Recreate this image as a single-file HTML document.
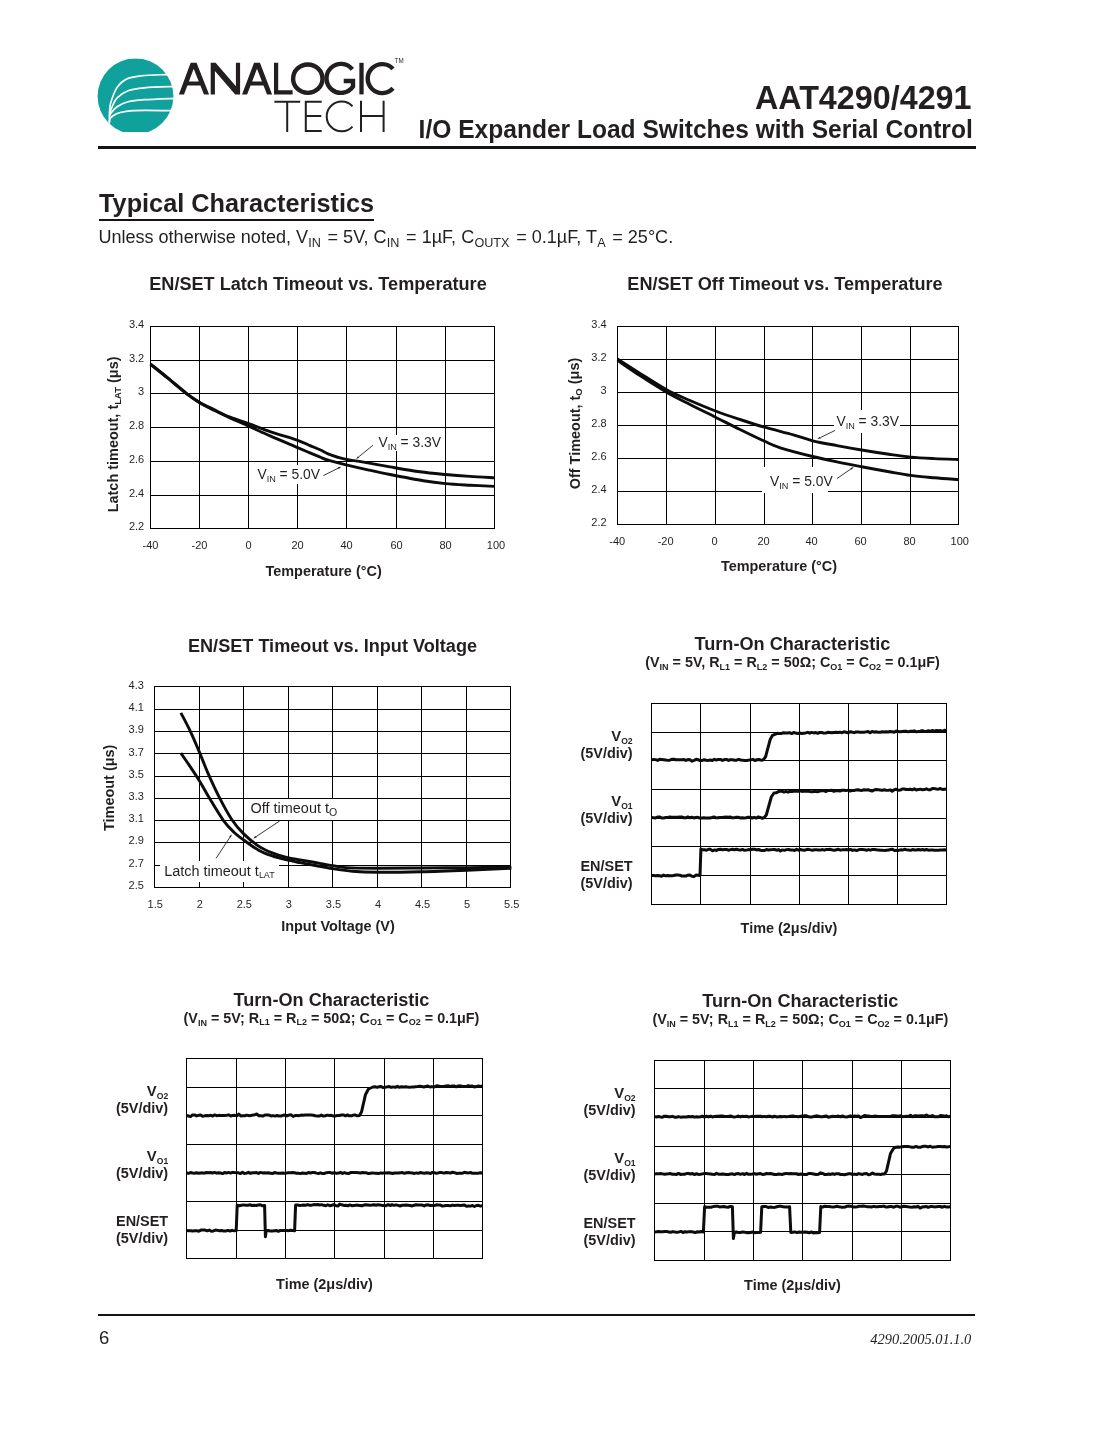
<!DOCTYPE html>
<html><head><meta charset="utf-8"><title>AAT4290/4291</title>
<style>
html,body{margin:0;padding:0;background:#fff;}
body{width:1105px;height:1430px;position:relative;overflow:hidden;font-family:"Liberation Sans",sans-serif;color:#231f20;}
.t{position:absolute;white-space:nowrap;line-height:1;}
.b{font-weight:bold;}
sub{font-size:70%;vertical-align:baseline;position:relative;top:0.31em;line-height:0;margin:0 1.7px 0 0.2px;}
svg{position:absolute;left:0;top:0;}
svg text{font-family:"Liberation Sans",sans-serif;fill:#231f20;}
.rule{position:absolute;background:#161314;}
#page{position:absolute;left:0;top:0;width:1105px;height:1430px;will-change:transform;background:#fff;}
</style></head><body><div id="page">
<div class="t b" id="h1" style="left:754.9px;top:81.56px;font-size:32.3px;transform:scaleY(1.03);transform-origin:0 0.8465em;">AAT4290/4291</div>
<div class="t b" id="h2" style="left:418.6px;top:117.6px;font-size:24.57px;transform:scaleY(1.02);transform-origin:0 0.8465em;">I/O Expander Load Switches with Serial Control</div>
<div class="rule" style="left:98px;top:146.25px;width:878px;height:2.4px;"></div>
<div class="t b" id="h3" style="left:99px;top:191.18px;font-size:25.3px;transform:scaleY(1.02);transform-origin:0 0.8465em;">Typical Characteristics</div>
<div class="rule" style="left:99.2px;top:219.1px;width:274.6px;height:1.7px;"></div>
<div class="t" id="note" style="left:98.4px;top:227.61px;font-size:18.06px;transform:scaleY(1.02);transform-origin:0 0.8465em;">Unless otherwise noted, V<sub>IN</sub> = 5V, C<sub>IN</sub> = 1&micro;F, C<sub>OUTX</sub> = 0.1&micro;F, T<sub>A</sub> = 25&deg;C.</div>
<div class="rule" style="left:98px;top:1313.7px;width:877px;height:2.2px;"></div>
<div class="t" id="pg" style="left:98.9px;top:1329.04px;font-size:18.5px;transform:scaleY(1.03);transform-origin:0 0.8465em;">6</div>
<div class="t" id="rev" style="right:133.7px;top:1331.77px;font-size:14.45px;font-family:'Liberation Serif',serif;font-style:italic;">4290.2005.01.1.0</div>
<svg width="1105" height="1430" viewBox="0 0 1105 1430">
<g id="logo"><clipPath id="lc"><rect x="90" y="58.4" width="90" height="73.5"/></clipPath><circle cx="135.5" cy="96.2" r="37.9" fill="#10a19c" clip-path="url(#lc)"/><g clip-path="url(#lc)"><path d="M109.3 123.5C109.35 121.58 109.35 115.48 109.6 112C109.85 108.52 109.55 106.7 110.8 102.6C112.05 98.5 114.53 91.3 117.1 87.4C119.67 83.5 122.27 81.12 126.2 79.2C130.13 77.28 134.07 76.67 140.7 75.9C147.33 75.13 160.12 74.83 166 74.6C171.88 74.37 174.33 74.52 176 74.5" fill="none" stroke="#fff" stroke-width="1.7" stroke-linecap="butt"/><path d="M109.9 113C110.18 112.17 110.4 110.52 111.6 108C112.8 105.48 114.37 100.78 117.1 97.9C119.83 95.02 123.47 92.38 128 90.7C132.53 89.02 136.3 88.5 144.3 87.8C152.3 87.1 170.72 86.72 176 86.5" fill="none" stroke="#fff" stroke-width="1.7" stroke-linecap="butt"/><path d="M109.6 116C109.82 115.55 109.65 114.85 110.9 113.3C112.15 111.75 114.25 108.62 117.1 106.7C119.95 104.78 123.47 102.97 128 101.8C132.53 100.63 136.3 100.28 144.3 99.7C152.3 99.12 170.72 98.53 176 98.3" fill="none" stroke="#fff" stroke-width="1.7" stroke-linecap="butt"/><path d="M109.4 122C109.6 121.32 109.32 119.32 110.6 117.9C111.88 116.48 114.5 114.6 117.1 113.5C119.7 112.4 121.67 111.82 126.2 111.3C130.73 110.78 136 110.48 144.3 110.4C152.6 110.32 170.72 110.73 176 110.8" fill="none" stroke="#fff" stroke-width="1.7" stroke-linecap="butt"/></g><path d="M178.9 94.4L184 94.4L195.95 62.8L190.65 62.8ZM204 94.4L209.1 94.4L196.55 62.8L191.25 62.8ZM184.25 85.4L203.53 85.4L201.94 81.4L185.73 81.4Z" fill="#231f20"/><path d="M210.7 94.4V62.8H215.6L235.9 86.2V62.8H240.1V94.4H235.2L214.9 71V94.4Z" fill="#231f20"/><path d="M242 94.4L247.1 94.4L259.35 62.8L254.05 62.8ZM267 94.4L272.1 94.4L259.95 62.8L254.65 62.8ZM247.43 85.4L266.64 85.4L265.1 81.4L248.96 81.4Z" fill="#231f20"/><path d="M276.1 62.8V92.3H292.6" fill="none" stroke="#231f20" stroke-width="4.2"/><ellipse cx="307.8" cy="78.65" rx="14.7" ry="14.2" fill="none" stroke="#231f20" stroke-width="4.4"/><path d="M352.31 69.28A14.5 14.5 0 1 0 353 86.5V81H343.7" fill="none" stroke="#231f20" stroke-width="4.4" stroke-linejoin="miter"/><path d="M361.5 62.8V94.4" fill="none" stroke="#231f20" stroke-width="4.3"/><path d="M392.98 68.9A14.5 14.5 0 1 0 392.98 88.3" fill="none" stroke="#231f20" stroke-width="4.4"/><text x="394.6" y="62.8" font-size="6.4" textLength="9.0" lengthAdjust="spacingAndGlyphs">TM</text><path d="M274.4 101.7H300.2M287.2 101.7V132.1" fill="none" stroke="#231f20" stroke-width="2"/><path d="M321.7 101.7H305.8V131.1H321.7M305.8 116H321.3" fill="none" stroke="#231f20" stroke-width="2"/><path d="M352.5 106.24A14.9 14.9 0 1 0 352.5 126.56" fill="none" stroke="#231f20" stroke-width="2"/><path d="M361 100.7V132.1M383.6 100.7V132.1M361 116H383.6" fill="none" stroke="#231f20" stroke-width="2"/></g>
<g id="c1"><text x="318" y="290" font-size="18.12" text-anchor="middle" font-weight="bold" >EN/SET Latch Timeout vs. Temperature</text><path d="M150.5 326V529M199.5 326V529M248.5 326V529M297.5 326V529M346.5 326V529M396.5 326V529M445.5 326V529M494.5 326V529M150 326.5H495M150 360.5H495M150 393.5H495M150 427.5H495M150 461.5H495M150 495.5H495M150 528.5H495" fill="none" stroke="#000" stroke-width="1" shape-rendering="crispEdges"/><rect x="375" y="435" width="68" height="16" fill="#fff"/><rect x="254" y="465" width="68" height="19" fill="#fff"/><path d="M150.5 363.9C153.42 366.25 162.02 373.1 168 378C173.98 382.9 181.15 389.27 186.4 393.3C191.65 397.33 194.9 399.48 199.5 402.2C204.1 404.92 208.92 407.1 214 409.6C219.08 412.1 224.23 414.87 230 417.2C235.77 419.53 241.82 421.17 248.6 423.6C255.38 426.03 262.53 429.02 270.7 431.8C278.87 434.58 291.05 438 297.6 440.3C304.15 442.6 306.27 444.02 310 445.6C313.73 447.18 316.98 448.42 320 449.8C323.02 451.18 325.27 452.7 328.1 453.9C330.93 455.1 333.98 456.1 337 457C340.02 457.9 341.05 458.32 346.2 459.3C351.35 460.28 360.6 461.63 367.9 462.9C375.2 464.17 381.32 465.42 390 466.9C398.68 468.38 410.75 470.53 420 471.8C429.25 473.07 437.17 473.73 445.5 474.5C453.83 475.27 461.83 475.87 470 476.4C478.17 476.93 490.42 477.48 494.5 477.7" fill="none" stroke="#0d0b0c" stroke-width="2.9" stroke-linecap="butt"/><path d="M150.5 364.3C153.42 366.65 162.02 373.5 168 378.4C173.98 383.3 181.15 389.65 186.4 393.7C191.65 397.75 194.9 399.93 199.5 402.7C204.1 405.47 208.92 407.77 214 410.3C219.08 412.83 224.23 415.27 230 417.9C235.77 420.53 241.82 423.05 248.6 426.1C255.38 429.15 262.53 432.62 270.7 436.2C278.87 439.78 291.05 444.82 297.6 447.6C304.15 450.38 306.27 451.33 310 452.9C313.73 454.47 316.98 455.78 320 457C323.02 458.22 323.73 458.9 328.1 460.2C332.47 461.5 339.57 463.2 346.2 464.8C352.83 466.4 360.6 468.18 367.9 469.8C375.2 471.42 380.75 472.67 390 474.5C399.25 476.33 414.15 479.28 423.4 480.8C432.65 482.32 437.73 482.87 445.5 483.6C453.27 484.33 461.83 484.73 470 485.2C478.17 485.67 490.42 486.2 494.5 486.4" fill="none" stroke="#0d0b0c" stroke-width="2.9" stroke-linecap="butt"/><text x="378.4" y="446.9" font-size="13.85" text-anchor="start" font-weight="normal" >V<tspan font-size="66%" dy="0.3em" >IN</tspan><tspan dy="-0.2em"> = 3.3V</tspan></text><text x="257.4" y="478.8" font-size="13.85" text-anchor="start" font-weight="normal" >V<tspan font-size="66%" dy="0.3em" >IN</tspan><tspan dy="-0.2em"> = 5.0V</tspan></text><path d="M373 445.2L358.63 456.95" stroke="#231f20" stroke-width="0.9" fill="none"/><path d="M356 459.1L357.97 456.13L359.3 457.76Z" fill="#231f20"/><path d="M323.4 475.6L338.16 468.22" stroke="#231f20" stroke-width="0.9" fill="none"/><path d="M341.2 466.7L338.63 469.16L337.69 467.28Z" fill="#231f20"/><text x="144.2" y="328" font-size="11" text-anchor="end" font-weight="normal" >3.4</text><text x="144.2" y="361.73" font-size="11" text-anchor="end" font-weight="normal" >3.2</text><text x="144.2" y="395.46" font-size="11" text-anchor="end" font-weight="normal" >3</text><text x="144.2" y="429.19" font-size="11" text-anchor="end" font-weight="normal" >2.8</text><text x="144.2" y="462.92" font-size="11" text-anchor="end" font-weight="normal" >2.6</text><text x="144.2" y="496.65" font-size="11" text-anchor="end" font-weight="normal" >2.4</text><text x="144.2" y="530.38" font-size="11" text-anchor="end" font-weight="normal" >2.2</text><text x="150.5" y="549.2" font-size="11" text-anchor="middle" font-weight="normal" >-40</text><text x="199.5" y="549.2" font-size="11" text-anchor="middle" font-weight="normal" >-20</text><text x="248.5" y="549.2" font-size="11" text-anchor="middle" font-weight="normal" >0</text><text x="297.5" y="549.2" font-size="11" text-anchor="middle" font-weight="normal" >20</text><text x="346.5" y="549.2" font-size="11" text-anchor="middle" font-weight="normal" >40</text><text x="396.5" y="549.2" font-size="11" text-anchor="middle" font-weight="normal" >60</text><text x="445.5" y="549.2" font-size="11" text-anchor="middle" font-weight="normal" >80</text><text x="496" y="549.2" font-size="11" text-anchor="middle" font-weight="normal" >100</text><text transform="translate(117.7 434.4) rotate(-90)" font-size="14.44" font-weight="bold" text-anchor="middle">Latch timeout, t<tspan font-size="66%" dy="0.3em" >LAT</tspan><tspan dy="-0.2em"> (&#956;s)</tspan></text><text x="323.6" y="576.4" font-size="14.44" text-anchor="middle" font-weight="bold" >Temperature (&#176;C)</text></g>
<g id="c2"><text x="785" y="290" font-size="18.12" text-anchor="middle" font-weight="bold" >EN/SET Off Timeout vs. Temperature</text><path d="M617.5 326V525M666.5 326V525M715.5 326V525M764.5 326V525M812.5 326V525M861.5 326V525M910.5 326V525M958.5 326V525M617 326.5H959M617 359.5H959M617 392.5H959M617 425.5H959M617 458.5H959M617 491.5H959M617 524.5H959" fill="none" stroke="#000" stroke-width="1" shape-rendering="crispEdges"/><rect x="834" y="410" width="66" height="23" fill="#fff"/><rect x="762" y="467" width="66" height="26" fill="#fff"/><path d="M617.5 359C621.25 361.4 631.82 368.28 640 373.4C648.18 378.52 658.27 385.18 666.6 389.7C674.93 394.22 681.85 396.95 690 400.5C698.15 404.05 707.17 407.83 715.5 411C723.83 414.17 731.82 416.8 740 419.5C748.18 422.2 755.7 424.65 764.6 427.2C773.5 429.75 785.4 432.53 793.4 434.8C801.4 437.07 805.35 439 812.6 440.8C819.85 442.6 828.73 444.07 836.9 445.6C845.07 447.13 852.92 448.55 861.6 450C870.28 451.45 880.82 453.12 889 454.3C897.18 455.48 903.1 456.38 910.7 457.1C918.3 457.82 926.6 458.2 934.6 458.6C942.6 459 954.68 459.35 958.7 459.5" fill="none" stroke="#0d0b0c" stroke-width="2.9" stroke-linecap="butt"/><path d="M617.5 360.3C621.25 362.85 631.82 370.28 640 375.6C648.18 380.92 658.27 387.38 666.6 392.2C674.93 397.02 681.85 400.33 690 404.5C698.15 408.67 707.17 413.03 715.5 417.2C723.83 421.37 731.82 425.48 740 429.5C748.18 433.52 757.87 438.25 764.6 441.3C771.33 444.35 772.4 445.27 780.4 447.8C788.4 450.33 803.18 454.15 812.6 456.5C822.02 458.85 828.73 460.2 836.9 461.9C845.07 463.6 852.92 465.07 861.6 466.7C870.28 468.33 880.82 470.25 889 471.7C897.18 473.15 903.1 474.38 910.7 475.4C918.3 476.42 926.6 477.08 934.6 477.8C942.6 478.52 954.68 479.38 958.7 479.7" fill="none" stroke="#0d0b0c" stroke-width="2.9" stroke-linecap="butt"/><text x="836.4" y="425.8" font-size="13.85" text-anchor="start" font-weight="normal" >V<tspan font-size="66%" dy="0.3em" >IN</tspan><tspan dy="-0.2em"> = 3.3V</tspan></text><text x="770" y="486" font-size="13.85" text-anchor="start" font-weight="normal" >V<tspan font-size="66%" dy="0.3em" >IN</tspan><tspan dy="-0.2em"> = 5.0V</tspan></text><path d="M835.1 430.4L820.35 437.61" stroke="#231f20" stroke-width="0.9" fill="none"/><path d="M817.3 439.1L819.89 436.66L820.82 438.55Z" fill="#231f20"/><path d="M836.9 478.6L851 468.84" stroke="#231f20" stroke-width="0.9" fill="none"/><path d="M853.8 466.9L851.6 469.7L850.41 467.97Z" fill="#231f20"/><text x="606.6" y="328.3" font-size="11" text-anchor="end" font-weight="normal" >3.4</text><text x="606.6" y="361.3" font-size="11" text-anchor="end" font-weight="normal" >3.2</text><text x="606.6" y="394.3" font-size="11" text-anchor="end" font-weight="normal" >3</text><text x="606.6" y="427.3" font-size="11" text-anchor="end" font-weight="normal" >2.8</text><text x="606.6" y="460.3" font-size="11" text-anchor="end" font-weight="normal" >2.6</text><text x="606.6" y="493.3" font-size="11" text-anchor="end" font-weight="normal" >2.4</text><text x="606.6" y="526.3" font-size="11" text-anchor="end" font-weight="normal" >2.2</text><text x="617.2" y="545.3" font-size="11" text-anchor="middle" font-weight="normal" >-40</text><text x="665.6" y="545.3" font-size="11" text-anchor="middle" font-weight="normal" >-20</text><text x="714.6" y="545.3" font-size="11" text-anchor="middle" font-weight="normal" >0</text><text x="763.6" y="545.3" font-size="11" text-anchor="middle" font-weight="normal" >20</text><text x="811.6" y="545.3" font-size="11" text-anchor="middle" font-weight="normal" >40</text><text x="860.6" y="545.3" font-size="11" text-anchor="middle" font-weight="normal" >60</text><text x="909.6" y="545.3" font-size="11" text-anchor="middle" font-weight="normal" >80</text><text x="959.7" y="545.3" font-size="11" text-anchor="middle" font-weight="normal" >100</text><text transform="translate(579.5 423.5) rotate(-90)" font-size="14.44" font-weight="bold" text-anchor="middle">Off Timeout, t<tspan font-size="66%" dy="0.3em" >O</tspan><tspan dy="-0.2em"> (&#956;s)</tspan></text><text x="779" y="571.3" font-size="14.44" text-anchor="middle" font-weight="bold" >Temperature (&#176;C)</text></g>
<g id="c3"><text x="332.5" y="652" font-size="18.12" text-anchor="middle" font-weight="bold" >EN/SET Timeout vs. Input Voltage</text><path d="M154.5 686V888M199.5 686V888M243.5 686V888M288.5 686V888M332.5 686V888M377.5 686V888M421.5 686V888M466.5 686V888M510.5 686V888M154 686.5H511M154 709.5H511M154 731.5H511M154 753.5H511M154 776.5H511M154 798.5H511M154 820.5H511M154 842.5H511M154 865.5H511M154 887.5H511" fill="none" stroke="#000" stroke-width="1" shape-rendering="crispEdges"/><rect x="245" y="799" width="95" height="21" fill="#fff"/><rect x="160" y="861" width="119" height="21" fill="#fff"/><path d="M180.9 712.8C182.53 716.02 187.6 725.5 190.7 732.1C193.8 738.7 196.55 745.38 199.5 752.4C202.45 759.42 205.12 766.73 208.4 774.2C211.68 781.67 215.37 789.73 219.2 797.2C223.03 804.67 227.32 812.88 231.4 819C235.48 825.12 239.17 829.38 243.7 833.9C248.23 838.42 253.85 842.93 258.6 846.1C263.35 849.27 267.68 851.05 272.2 852.9C276.72 854.75 281.07 856.03 285.7 857.2C290.33 858.37 295.32 859.05 300 859.9C304.68 860.75 308.35 861.35 313.8 862.3C319.25 863.25 327.3 864.72 332.7 865.6C338.1 866.48 338.65 867.17 346.2 867.6C353.75 868.03 365.53 868.13 378 868.2C390.47 868.27 406.17 868.1 421 868C435.83 867.9 451.95 867.75 467 867.6C482.05 867.45 503.92 867.18 511.3 867.1" fill="none" stroke="#0d0b0c" stroke-width="2.9" stroke-linecap="butt"/><path d="M180.9 753.1C182.53 755.48 187.6 762.77 190.7 767.4C193.8 772.03 196.33 775.7 199.5 780.9C202.67 786.1 205.73 792.03 209.7 798.6C213.67 805.17 219.22 814.65 223.3 820.3C227.38 825.95 230.8 829.22 234.2 832.5C237.6 835.78 239.63 837.05 243.7 840C247.77 842.95 253.85 847.55 258.6 850.2C263.35 852.85 267.68 854.32 272.2 855.9C276.72 857.48 281.07 858.57 285.7 859.7C290.33 860.83 295.32 861.77 300 862.7C304.68 863.63 308.35 864.32 313.8 865.3C319.25 866.28 326.27 867.62 332.7 868.6C339.13 869.58 344.95 870.6 352.4 871.2C359.85 871.8 365.95 872.12 377.4 872.2C388.85 872.28 406.18 872.03 421.1 871.7C436.02 871.37 451.87 870.77 466.9 870.2C481.93 869.63 503.9 868.62 511.3 868.3" fill="none" stroke="#0d0b0c" stroke-width="2.9" stroke-linecap="butt"/><text x="250.6" y="813.2" font-size="14.44" text-anchor="start" font-weight="normal" >Off timeout t<tspan font-size="73%" dy="0.23em" >O</tspan><tspan dy="-0.17em"></tspan></text><text x="164.2" y="875.6" font-size="14.44" text-anchor="start" font-weight="normal" >Latch timeout t<tspan font-size="62%" dy="0.32em" >LAT</tspan><tspan dy="-0.2em"></tspan></text><path d="M279.6 821L256.03 836.71" stroke="#231f20" stroke-width="0.9" fill="none"/><path d="M253.2 838.6L255.45 835.84L256.61 837.59Z" fill="#231f20"/><path d="M216.1 858.3L230.04 837.04" stroke="#231f20" stroke-width="0.9" fill="none"/><path d="M231.9 834.2L230.91 837.62L229.16 836.47Z" fill="#231f20"/><text x="143.9" y="689" font-size="11" text-anchor="end" font-weight="normal" >4.3</text><text x="143.9" y="711.19" font-size="11" text-anchor="end" font-weight="normal" >4.1</text><text x="143.9" y="733.38" font-size="11" text-anchor="end" font-weight="normal" >3.9</text><text x="143.9" y="755.57" font-size="11" text-anchor="end" font-weight="normal" >3.7</text><text x="143.9" y="777.76" font-size="11" text-anchor="end" font-weight="normal" >3.5</text><text x="143.9" y="799.95" font-size="11" text-anchor="end" font-weight="normal" >3.3</text><text x="143.9" y="822.14" font-size="11" text-anchor="end" font-weight="normal" >3.1</text><text x="143.9" y="844.33" font-size="11" text-anchor="end" font-weight="normal" >2.9</text><text x="143.9" y="866.52" font-size="11" text-anchor="end" font-weight="normal" >2.7</text><text x="143.9" y="888.71" font-size="11" text-anchor="end" font-weight="normal" >2.5</text><text x="155.2" y="908.4" font-size="11" text-anchor="middle" font-weight="normal" >1.5</text><text x="199.76" y="908.4" font-size="11" text-anchor="middle" font-weight="normal" >2</text><text x="244.32" y="908.4" font-size="11" text-anchor="middle" font-weight="normal" >2.5</text><text x="288.88" y="908.4" font-size="11" text-anchor="middle" font-weight="normal" >3</text><text x="333.44" y="908.4" font-size="11" text-anchor="middle" font-weight="normal" >3.5</text><text x="378" y="908.4" font-size="11" text-anchor="middle" font-weight="normal" >4</text><text x="422.56" y="908.4" font-size="11" text-anchor="middle" font-weight="normal" >4.5</text><text x="467.12" y="908.4" font-size="11" text-anchor="middle" font-weight="normal" >5</text><text x="511.68" y="908.4" font-size="11" text-anchor="middle" font-weight="normal" >5.5</text><text transform="translate(113.9 787.8) rotate(-90)" font-size="14.44" font-weight="bold" text-anchor="middle">Timeout (&#956;s)</text><text x="338" y="930.8" font-size="14.44" text-anchor="middle" font-weight="bold" >Input Voltage (V)</text></g>
<g id="c4"><text x="792.5" y="650" font-size="18.12" text-anchor="middle" font-weight="bold" >Turn-On Characteristic</text><text x="792.5" y="667" font-size="14.35" text-anchor="middle" font-weight="bold" >(V<tspan font-size="63%" dy="0.3em">IN</tspan><tspan dy="-0.19em"> = 5V, R</tspan><tspan font-size="63%" dy="0.3em">L1</tspan><tspan dy="-0.19em"> = R</tspan><tspan font-size="63%" dy="0.3em">L2</tspan><tspan dy="-0.19em"> = 50&#937;; C</tspan><tspan font-size="63%" dy="0.3em">O1</tspan><tspan dy="-0.19em"> = C</tspan><tspan font-size="63%" dy="0.3em">O2</tspan><tspan dy="-0.19em"> = 0.1&#956;F)</tspan></text><path d="M651.5 703V905M700.5 703V905M750.5 703V905M799.5 703V905M848.5 703V905M897.5 703V905M946.5 703V905M651 703.5H947M651 732.5H947M651 760.5H947M651 789.5H947M651 818.5H947M651 846.5H947M651 875.5H947M651 904.5H947" fill="none" stroke="#000" stroke-width="1" shape-rendering="crispEdges"/><path d="M651.5 759.9L653.53 759.45L655.55 759.62L657.58 760.42L659.61 759.31L661.64 759.45L663.66 759.78L665.69 760.08L667.72 760.37L669.75 760.19L671.77 759.35L673.8 759.19L675.83 759.79L677.85 759.84L679.88 759.74L681.91 759.74L683.94 759.53L685.96 760.45L687.99 759.48L690.02 759.83L692.05 761.14L694.07 760.27L696.1 759.33L698.13 759.76L700.15 760.52L702.18 760.43L704.21 759.71L706.24 760.22L708.26 760.38L710.29 760.04L712.32 760.51L714.35 759.37L716.37 759.96L718.4 759.39L720.43 759.39L722.45 760.4L724.48 759.57L726.51 759.45L728.54 760.49L730.56 759.62L732.59 759.83L734.62 760.2L736.65 760.23L738.67 759.34L740.7 759.95L742.73 760.35L744.75 760.49L746.78 760.42L748.81 760.11L750.84 759.89L752.86 759.41L754.89 760.5L756.92 759.74L758.95 759.46L760.97 760.2L763 759.9L765.5 757L766.02 755.06L766.54 753.11L767.07 751.17L767.59 749.22L768.11 747.28L768.63 745.33L769.16 743.39L769.68 741.44L770.2 739.5L771.35 737.4L772.5 735.3L775 734.3L777.5 733.3L779.51 733.51L781.52 733.41L783.54 732.69L785.55 732.93L787.56 732.98L789.57 732.61L791.59 733.55L793.6 732.54L795.61 733.05L797.62 733.42L799.63 732.98L801.65 733.54L803.66 733.24L805.67 732.94L807.68 732.31L809.7 733.21L811.71 732.39L813.72 732.9L815.73 732.54L817.74 733.27L819.76 732.5L821.77 732.55L823.78 733.13L825.79 732.95L827.8 732.36L829.82 732.42L831.83 732.81L833.84 732.44L835.85 732.24L837.87 732.47L839.88 732.18L841.89 732.76L843.9 731.82L845.91 732.22L847.93 732.83L849.94 731.8L851.95 732.07L853.96 732.65L855.98 731.96L857.99 731.98L860 732.2L862.01 732.24L864.02 732.14L866.03 731.87L868.05 731.6L870.06 732.65L872.07 731.43L874.08 732.15L876.09 731.83L878.1 732.18L880.12 732.34L882.13 731.71L884.14 731.99L886.15 731.65L888.16 731.99L890.17 731.57L892.19 731.73L894.2 732.26L896.21 731.1L898.22 731.43L900.23 731.75L902.24 731.48L904.26 731.17L906.27 731.28L908.28 731.83L910.29 731.22L912.3 731.23L914.31 730.85L916.33 731.85L918.34 731.44L920.35 731.2L922.36 730.59L924.37 731.39L926.38 731.52L928.4 730.78L930.41 731.49L932.42 730.41L934.43 731.57L936.44 730.41L938.45 730.77L940.47 730.61L942.48 731.47L944.49 730.21L946.5 730.8" fill="none" stroke="#0d0b0c" stroke-width="3.0" stroke-linejoin="round" stroke-linecap="butt"/><path d="M651.5 817.5L653.51 817.65L655.53 817.96L657.54 817.11L659.56 816.99L661.57 817.89L663.59 817.93L665.6 817.48L667.61 817.45L669.63 817.02L671.64 817.31L673.66 817.16L675.67 817.32L677.69 817.15L679.7 816.9L681.71 817.01L683.73 817.73L685.74 817.84L687.76 816.94L689.77 817.66L691.79 817.27L693.8 817.95L695.81 817.54L697.83 817.3L699.84 818.04L701.86 817.97L703.87 817.85L705.89 817.95L707.9 817.98L709.91 817.97L711.93 817.46L713.94 816.89L715.96 817.87L717.97 817.67L719.99 817.48L722 817.47L724.01 817.15L726.03 816.98L728.04 817.19L730.06 816.91L732.07 817.83L734.09 817.82L736.1 817.24L738.11 817.14L740.13 817.93L742.14 817.72L744.16 817.93L746.17 817.69L748.19 817.18L750.2 817.16L752.21 817.99L754.23 817.3L756.24 818.08L758.26 816.92L760.27 817.45L762.29 818.27L764.3 817.5L766.3 815L766.86 813L767.41 811L767.97 809L768.52 807L769.08 805L769.63 803L770.19 801L770.74 799L771.3 797L772.65 795L774 793L776 792.84L778 791.8L780 791.3L782 791.14L784 792.1L786 791.39L788 792.17L790 791.19L792 791.56L794 790.96L796 791.36L798 791.22L800 790.91L802 791.42L804 791.11L806 791.18L808 791.14L810 791.58L812 791.81L814 791.58L816 791.41L818 791.68L820 791.12L822 790.84L824 790.61L826 791.55L828 790.47L830 790.52L832 790.31L834 791.28L836 790.49L838 790.72L840 791.05L842 790.14L844 790.35L846 790.59L848 790.13L850 791.05L852 790.49L854 790.57L856 789.94L858 789.74L860 790.3L862.01 790.46L864.02 789.7L866.03 789.95L868.05 789.65L870.06 790.46L872.07 791.07L874.08 790.02L876.09 789.54L878.1 789.76L880.12 789.96L882.13 790.4L884.14 789.78L886.15 790.19L888.16 790.37L890.17 789.88L892.19 791.19L894.2 789.79L896.21 789.33L898.22 790.15L900.23 790.11L902.24 789L904.26 788.95L906.27 789.54L908.28 789.45L910.29 789.15L912.3 789.8L914.31 788.87L916.33 790.04L918.34 789.43L920.35 789.15L922.36 789.72L924.37 789.61L926.38 788.78L928.4 789.78L930.41 789.76L932.42 788.57L934.43 788.62L936.44 789.01L938.45 789.21L940.47 788.48L942.48 789.48L944.49 789.17L946.5 788.9" fill="none" stroke="#0d0b0c" stroke-width="3.0" stroke-linejoin="round" stroke-linecap="butt"/><path d="M651.5 875.6L653.52 875.49L655.54 875.82L657.56 875.48L659.58 875.75L661.6 876.23L663.62 875.11L665.65 875.86L667.67 875.46L669.69 875.66L671.71 875.8L673.73 875.54L675.75 875.02L677.77 874.99L679.79 875.18L681.81 876.09L683.83 875.98L685.85 876.07L687.88 875.18L689.9 874.98L691.92 876.19L693.94 876.55L695.96 875.11L697.98 875.3L700 875.6L700.07 873.55L700.14 871.51L700.21 869.46L700.28 867.42L700.35 865.37L700.42 863.32L700.48 861.28L700.55 859.23L700.62 857.18L700.69 855.14L700.76 853.09L700.83 851.05L700.9 849L702.5 849.8L704.5 849.81L706.5 850.24L708.5 849.24L710.5 849.34L712.5 850.8L714.5 849.9L716.5 850.44L718.5 849.41L720.5 849.31L722.5 849.7L724.5 849.51L726.5 849.49L728.5 850.19L730.5 849.61L732.5 849.31L734.5 849.81L736.5 849.25L738.5 849.71L740.5 850.07L742.5 849.38L744.5 850.31L746.5 850.13L748.5 849.57L750.5 849.72L752.5 849.3L754.5 849.26L756.5 849.95L758.5 849.53L760.5 850.26L762.5 850.46L764.5 850.42L766.5 849.53L768.5 850.01L770.5 849.81L772.5 849.62L774.5 849.5L776.5 850.2L778.5 849.56L780.5 851.07L782.5 849.9L784.5 850.35L786.5 849.63L788.5 849.45L790.5 849.99L792.5 849.92L794.5 850.47L796.5 849.33L798.5 850.15L800.5 849.54L802.5 850.09L804.5 850.26L806.5 849.61L808.5 849.36L810.5 849.84L812.5 850.32L814.5 849.83L816.5 849.77L818.5 849.91L820.5 850.09L822.5 849.57L824.5 850.14L826.5 849.43L828.5 849.46L830.5 849.28L832.5 850.09L834.5 850.32L836.5 849.79L838.5 849.28L840.5 850.14L842.5 849.82L844.5 849.83L846.5 849.58L848.5 850.03L850.5 849.4L852.5 850.42L854.5 849.91L856.5 850.54L858.5 849.79L860.5 849.38L862.5 849.47L864.5 849.67L866.5 850.22L868.5 849.61L870.5 850.14L872.5 849.45L874.5 849.46L876.5 849.77L878.5 850.01L880.5 850.28L882.5 850.14L884.5 850.59L886.5 850.19L888.5 850.09L890.5 849.48L892.5 849.3L894.5 850.49L896.5 850.26L898.5 850.42L900.5 849.86L902.5 850.08L904.5 849.33L906.5 849.66L908.5 849.89L910.5 850.34L912.5 849.53L914.5 850.06L916.5 850.05L918.5 849.44L920.5 849.94L922.5 849.51L924.5 850.2L926.5 849.48L928.5 850.19L930.5 850.06L932.5 849.9L934.5 850.14L936.5 850.23L938.5 850.18L940.5 849.93L942.5 850.08L944.5 849.72L946.5 850" fill="none" stroke="#0d0b0c" stroke-width="3.0" stroke-linejoin="round" stroke-linecap="butt"/><text x="632.6" y="740.7" font-size="14.84" text-anchor="end" font-weight="bold" >V<tspan font-size="58%" dy="0.36em">O2</tspan></text><text x="632.6" y="758" font-size="14.44" text-anchor="end" font-weight="bold" >(5V/div)</text><text x="632.6" y="805.6" font-size="14.84" text-anchor="end" font-weight="bold" >V<tspan font-size="58%" dy="0.36em">O1</tspan></text><text x="632.6" y="822.9" font-size="14.44" text-anchor="end" font-weight="bold" >(5V/div)</text><text x="632.6" y="870.6" font-size="14.44" text-anchor="end" font-weight="bold" >EN/SET</text><text x="632.6" y="887.9" font-size="14.44" text-anchor="end" font-weight="bold" >(5V/div)</text><text x="789" y="933.2" font-size="14.44" text-anchor="middle" font-weight="bold" >Time (2&#956;s/div)</text></g>
<g id="c5"><text x="331.5" y="1005.8" font-size="18.12" text-anchor="middle" font-weight="bold" >Turn-On Characteristic</text><text x="331.5" y="1022.8" font-size="14.35" text-anchor="middle" font-weight="bold" >(V<tspan font-size="63%" dy="0.3em">IN</tspan><tspan dy="-0.19em"> = 5V; R</tspan><tspan font-size="63%" dy="0.3em">L1</tspan><tspan dy="-0.19em"> = R</tspan><tspan font-size="63%" dy="0.3em">L2</tspan><tspan dy="-0.19em"> = 50&#937;; C</tspan><tspan font-size="63%" dy="0.3em">O1</tspan><tspan dy="-0.19em"> = C</tspan><tspan font-size="63%" dy="0.3em">O2</tspan><tspan dy="-0.19em"> = 0.1&#956;F)</tspan></text><path d="M186.5 1058V1259M236.5 1058V1259M285.5 1058V1259M334.5 1058V1259M384.5 1058V1259M433.5 1058V1259M482.5 1058V1259M186 1058.5H483M186 1087.5H483M186 1115.5H483M186 1144.5H483M186 1173.5H483M186 1201.5H483M186 1230.5H483M186 1258.5H483" fill="none" stroke="#000" stroke-width="1" shape-rendering="crispEdges"/><path d="M186.5 1115.5L188.51 1116.04L190.52 1116.59L192.53 1114.95L194.55 1114.93L196.56 1115.89L198.57 1115.33L200.58 1115.08L202.59 1116.34L204.6 1115.85L206.62 1115.55L208.63 1115.72L210.64 1115.34L212.65 1116.03L214.66 1114.93L216.67 1115.7L218.69 1115.37L220.7 1115.41L222.71 1115.53L224.72 1115.48L226.73 1115.25L228.74 1114.87L230.76 1115.98L232.77 1115.38L234.78 1115.33L236.79 1115.92L238.8 1114.14L240.81 1115.96L242.83 1115.67L244.84 1115.8L246.85 1115.15L248.86 1115.66L250.87 1115.39L252.88 1115.09L254.9 1114.66L256.91 1114.04L258.92 1115.76L260.93 1115.69L262.94 1116.08L264.95 1115L266.97 1115.01L268.98 1115.08L270.99 1115.97L273 1115.62L275.01 1116.12L277.02 1115.55L279.03 1116.08L281.05 1115.95L283.06 1115.33L285.07 1115.01L287.08 1115.91L289.09 1114.99L291.1 1114.87L293.12 1116.4L295.13 1115.54L297.14 1115.42L299.15 1115.67L301.16 1115.1L303.17 1115.23L305.19 1115.01L307.2 1115.09L309.21 1114.98L311.22 1114.9L313.23 1115.22L315.24 1115.79L317.26 1115.98L319.27 1116.11L321.28 1115.13L323.29 1116.11L325.3 1115.72L327.31 1115.13L329.33 1115.43L331.34 1115.34L333.35 1116.08L335.36 1116.12L337.37 1115.41L339.38 1115.5L341.4 1114.98L343.41 1114.98L345.42 1115.85L347.43 1114.94L349.44 1115.78L351.45 1115.8L353.47 1115.09L355.48 1115.06L357.49 1115.83L359.5 1115.5L360.5 1113.75L361.5 1112L362 1109.81L362.5 1107.62L363 1105.44L363.5 1103.25L364 1101.06L364.5 1098.88L365 1096.69L365.5 1094.5L366.5 1092.67L367.5 1090.83L368.5 1089L370.75 1088L373 1087L375.03 1086.69L377.06 1087.34L379.09 1086.82L381.12 1086.5L383.15 1087.54L385.18 1087.27L387.21 1086.88L389.24 1086.52L391.27 1087.4L393.3 1086.9L395.33 1087.37L397.36 1086.33L399.39 1087.27L401.42 1086.74L403.45 1087.02L405.48 1086.85L407.52 1087.11L409.55 1087.15L411.58 1087.1L413.61 1086.93L415.64 1086.77L417.67 1086.58L419.7 1086.32L421.73 1086.59L423.76 1086.92L425.79 1086.45L427.82 1086.04L429.85 1086.91L431.88 1086.62L433.91 1087.03L435.94 1086.07L437.97 1085.84L440 1086.4L442.02 1086.54L444.05 1086.42L446.07 1085.91L448.1 1085.75L450.12 1086.56L452.14 1085.89L454.17 1085.91L456.19 1086.81L458.21 1085.92L460.24 1085.87L462.26 1086.3L464.29 1086.59L466.31 1086.58L468.33 1085.62L470.36 1086.3L472.38 1086.08L474.4 1086.99L476.43 1086.49L478.45 1086.03L480.48 1086.45L482.5 1086" fill="none" stroke="#0d0b0c" stroke-width="3.0" stroke-linejoin="round" stroke-linecap="butt"/><path d="M186.5 1173L188.5 1173.34L190.5 1172.56L192.5 1173.03L194.5 1173.2L196.5 1172.82L198.5 1173.32L200.5 1172.91L202.5 1172.86L204.5 1173.2L206.5 1172.43L208.5 1172.79L210.5 1172.56L212.5 1172.99L214.5 1172.38L216.5 1173.13L218.5 1172.71L220.5 1172.99L222.5 1173.57L224.5 1172.57L226.5 1173.07L228.5 1172.44L230.5 1173.1L232.5 1172.37L234.5 1172.6L236.5 1172.7L238.5 1172.85L240.5 1173.59L242.5 1172.27L244.5 1173.52L246.5 1173.12L248.5 1172.36L250.5 1173.36L252.5 1172.77L254.5 1172.72L256.5 1172.57L258.5 1173.38L260.5 1172.39L262.5 1172.88L264.5 1172.8L266.5 1173.02L268.5 1172.7L270.5 1173.35L272.5 1173.56L274.5 1172.51L276.5 1173L278.5 1173.23L280.5 1173.3L282.5 1173.07L284.5 1173.33L286.5 1173.02L288.5 1172.62L290.5 1172.86L292.5 1172.59L294.5 1172.79L296.5 1173.28L298.5 1173.29L300.5 1173.62L302.5 1172.9L304.5 1173.18L306.5 1173.46L308.5 1172.5L310.5 1172.95L312.5 1172.55L314.5 1172.47L316.5 1173.12L318.5 1173.46L320.5 1172.81L322.5 1173.57L324.5 1173.48L326.5 1172.66L328.5 1172.54L330.5 1172.58L332.5 1173.26L334.5 1172.58L336.5 1173.39L338.5 1173.08L340.5 1172.38L342.5 1173.46L344.5 1172.61L346.5 1173.35L348.5 1173.6L350.5 1172.58L352.5 1172.59L354.5 1172.38L356.5 1172.48L358.5 1172.71L360.5 1172.98L362.5 1172.56L364.5 1172.84L366.5 1172.87L368.5 1173.6L370.5 1173.26L372.5 1172.92L374.5 1173.13L376.5 1173.26L378.5 1173.56L380.5 1172.89L382.5 1173.14L384.5 1172.81L386.5 1172.97L388.5 1172.67L390.5 1172.99L392.5 1173.54L394.5 1172.97L396.5 1173.11L398.5 1172.94L400.5 1172.66L402.5 1172.6L404.5 1173.32L406.5 1172.82L408.5 1172.43L410.5 1172.86L412.5 1173.05L414.5 1173.4L416.5 1172.88L418.5 1173.37L420.5 1172.49L422.5 1173.1L424.5 1173.18L426.5 1172.81L428.5 1172.93L430.5 1173.5L432.5 1172.39L434.5 1172.81L436.5 1173.37L438.5 1172.83L440.5 1172.38L442.5 1172.83L444.5 1173.06L446.5 1172.48L448.5 1172.74L450.5 1173.04L452.5 1172.14L454.5 1172.66L456.5 1173.45L458.5 1173.34L460.5 1173.32L462.5 1173.16L464.5 1172.3L466.5 1172.87L468.5 1172.88L470.5 1172.5L472.5 1173.3L474.5 1173.19L476.5 1173.29L478.5 1173.13L480.5 1172.67L482.5 1173" fill="none" stroke="#0d0b0c" stroke-width="3.0" stroke-linejoin="round" stroke-linecap="butt"/><path d="M186.5 1230.6L188.57 1230.85L190.64 1230.67L192.71 1230.96L194.78 1230.71L196.85 1230.77L198.93 1231.15L201 1230.12L203.07 1230.07L205.14 1230.06L207.21 1230.83L209.28 1230.03L211.35 1231.19L213.42 1230.95L215.49 1230L217.56 1230.39L219.63 1230.8L221.7 1230.43L223.77 1231.12L225.85 1230.99L227.92 1230.36L229.99 1231.03L232.06 1230.35L234.13 1230.84L236.2 1230.6L236.28 1228.48L236.37 1226.37L236.45 1224.25L236.53 1222.13L236.62 1220.02L236.7 1217.9L236.78 1215.78L236.87 1213.67L236.95 1211.55L237.03 1209.43L237.12 1207.32L237.2 1205.2L239.31 1205.79L241.42 1205.23L243.52 1204.88L245.63 1205.28L247.74 1205.35L249.85 1204.8L251.95 1205.45L254.06 1205.33L256.17 1205.55L258.28 1205.01L260.38 1204.78L262.49 1205.84L264.6 1205.4L264.65 1207.49L264.71 1209.59L264.76 1211.68L264.81 1213.77L264.87 1215.87L264.92 1217.96L264.97 1220.05L265.03 1222.15L265.08 1224.24L265.13 1226.33L265.19 1228.43L265.24 1230.52L265.29 1232.61L265.35 1234.71L265.4 1236.8L265.67 1234.8L265.93 1232.8L266.2 1230.8L268.23 1230.49L270.26 1230.94L272.29 1231.11L274.31 1230.7L276.34 1230.43L278.37 1231.35L280.4 1230.38L282.43 1230.62L284.46 1230.46L286.49 1230.45L288.51 1230.65L290.54 1230.21L292.57 1230.56L294.6 1230.8L294.68 1228.65L294.77 1226.5L294.85 1224.35L294.93 1222.2L295.02 1220.05L295.1 1217.9L295.18 1215.75L295.27 1213.6L295.35 1211.45L295.43 1209.3L295.52 1207.15L295.6 1205L297.61 1204.92L299.62 1205.55L301.63 1205.33L303.64 1205.02L305.65 1205.2L307.66 1204.6L309.67 1205.19L311.68 1205.13L313.69 1204.58L315.7 1204.71L317.71 1204.47L319.72 1205.01L321.73 1204.64L323.74 1205.32L325.75 1205.72L327.75 1204.76L329.76 1205.69L331.77 1205.3L333.78 1204.54L335.79 1205.65L337.8 1206.08L339.81 1204.07L341.82 1204.79L343.83 1205.38L345.84 1205.28L347.85 1205.8L349.86 1204.91L351.87 1205.67L353.88 1205.6L355.89 1205.09L357.9 1205.28L359.91 1205.49L361.92 1205.77L363.93 1205.06L365.94 1204.78L367.95 1205.03L369.96 1205.29L371.97 1205.07L373.98 1204.66L375.99 1205.28L378 1204.65L380.01 1204.93L382.02 1205.4L384.03 1205.54L386.04 1205.81L388.05 1204.67L390.05 1205.48L392.06 1204.77L394.07 1205.35L396.08 1204.84L398.09 1205.38L400.1 1205.95L402.11 1205.29L404.12 1205.28L406.13 1205.03L408.14 1205.21L410.15 1205.44L412.16 1205.92L414.17 1205.22L416.18 1204.76L418.19 1205.05L420.2 1204.99L422.21 1205.06L424.22 1205.95L426.23 1204.96L428.24 1204.8L430.25 1205.51L432.26 1205.47L434.27 1205.57L436.28 1204.84L438.29 1204.99L440.3 1204.93L442.31 1206.09L444.32 1205.82L446.33 1205.49L448.34 1205.53L450.35 1205.86L452.35 1205.09L454.36 1205.56L456.37 1205.26L458.38 1205.23L460.39 1205.51L462.4 1205.3L464.41 1205.06L466.42 1206.28L468.43 1205.92L470.44 1206.13L472.45 1205.53L474.46 1206.53L476.47 1205.48L478.48 1205.37L480.49 1206.13L482.5 1205.6" fill="none" stroke="#0d0b0c" stroke-width="3.0" stroke-linejoin="round" stroke-linecap="butt"/><text x="168.2" y="1095.7" font-size="14.84" text-anchor="end" font-weight="bold" >V<tspan font-size="58%" dy="0.36em">O2</tspan></text><text x="168.2" y="1113" font-size="14.44" text-anchor="end" font-weight="bold" >(5V/div)</text><text x="168.2" y="1160.6" font-size="14.84" text-anchor="end" font-weight="bold" >V<tspan font-size="58%" dy="0.36em">O1</tspan></text><text x="168.2" y="1177.9" font-size="14.44" text-anchor="end" font-weight="bold" >(5V/div)</text><text x="168.2" y="1225.6" font-size="14.44" text-anchor="end" font-weight="bold" >EN/SET</text><text x="168.2" y="1242.9" font-size="14.44" text-anchor="end" font-weight="bold" >(5V/div)</text><text x="324.5" y="1289.3" font-size="14.44" text-anchor="middle" font-weight="bold" >Time (2&#956;s/div)</text></g>
<g id="c6"><text x="800.3" y="1007" font-size="18.12" text-anchor="middle" font-weight="bold" >Turn-On Characteristic</text><text x="800.3" y="1024" font-size="14.35" text-anchor="middle" font-weight="bold" >(V<tspan font-size="63%" dy="0.3em">IN</tspan><tspan dy="-0.19em"> = 5V; R</tspan><tspan font-size="63%" dy="0.3em">L1</tspan><tspan dy="-0.19em"> = R</tspan><tspan font-size="63%" dy="0.3em">L2</tspan><tspan dy="-0.19em"> = 50&#937;; C</tspan><tspan font-size="63%" dy="0.3em">O1</tspan><tspan dy="-0.19em"> = C</tspan><tspan font-size="63%" dy="0.3em">O2</tspan><tspan dy="-0.19em"> = 0.1&#956;F)</tspan></text><path d="M654.5 1060V1261M704.5 1060V1261M753.5 1060V1261M802.5 1060V1261M852.5 1060V1261M901.5 1060V1261M950.5 1060V1261M654 1060.5H951M654 1088.5H951M654 1117.5H951M654 1146.5H951M654 1174.5H951M654 1203.5H951M654 1231.5H951M654 1260.5H951" fill="none" stroke="#000" stroke-width="1" shape-rendering="crispEdges"/><path d="M654.5 1116.6L656.5 1117.02L658.5 1116.43L660.5 1116.9L662.5 1117.18L664.5 1116.22L666.5 1116.26L668.5 1116.74L670.5 1116.79L672.5 1116.37L674.5 1117.17L676.5 1117.21L678.5 1116.6L680.5 1117.16L682.5 1117L684.5 1116.9L686.5 1117.06L688.5 1116.56L690.5 1116.83L692.5 1116.48L694.5 1117.13L696.5 1116.75L698.5 1117L700.5 1116.72L702.5 1116.25L704.5 1116.97L706.5 1116.25L708.5 1116.9L710.5 1116L712.5 1117.01L714.5 1116.4L716.5 1116.36L718.5 1116.29L720.5 1116.08L722.5 1116.05L724.5 1116.4L726.5 1116.55L728.5 1116.49L730.5 1115.88L732.5 1116.71L734.5 1116.91L736.5 1116.61L738.5 1115.99L740.5 1116.91L742.5 1116.13L744.5 1116.59L746.5 1116.25L748.5 1116.92L750.5 1116.63L752.5 1116.32L754.5 1116.51L756.5 1116.31L758.5 1116.15L760.5 1116.2L762.5 1116.68L764.5 1116.39L766.5 1116.78L768.5 1116.27L770.5 1116.33L772.5 1116.98L774.5 1116.19L776.5 1116.92L778.5 1116.7L780.5 1116.58L782.5 1116.63L784.5 1116.43L786.5 1116.74L788.5 1116.51L790.5 1116.2L792.5 1115.9L794.5 1116.26L796.5 1116.41L798.5 1116.67L800.5 1116.32L802.5 1116.11L804.5 1115.81L806.5 1115.86L808.5 1116.8L810.5 1117.02L812.5 1116.89L814.5 1116.25L816.5 1115.86L818.5 1116.12L820.5 1116.73L822.5 1116.74L824.5 1116.29L826.5 1115.94L828.5 1117.26L830.5 1116.74L832.5 1116.33L834.5 1116.53L836.5 1116.48L838.5 1116.09L840.5 1116.84L842.5 1115.93L844.5 1116.83L846.5 1116.96L848.5 1116.52L850.5 1115.82L852.5 1116.6L854.5 1115.96L856.5 1116.27L858.5 1115.88L860.5 1117.55L862.5 1116.66L864.5 1115.6L866.5 1115.84L868.5 1115.89L870.5 1116.4L872.5 1116.46L874.5 1116.11L876.5 1116.25L878.5 1116.41L880.5 1116.43L882.5 1116.48L884.5 1116.53L886.5 1116.45L888.5 1116.44L890.5 1116.41L892.5 1115.76L894.5 1115.76L896.5 1115.91L898.5 1116.3L900.5 1115.75L902.5 1116.64L904.5 1116.62L906.5 1116.28L908.5 1116.51L910.5 1115.18L912.5 1116.83L914.5 1115.86L916.5 1115.86L918.5 1115.98L920.5 1115.78L922.5 1115.85L924.5 1115.89L926.5 1115.03L928.5 1116.31L930.5 1116.23L932.5 1115.61L934.5 1116.77L936.5 1116.64L938.5 1116.79L940.5 1115.62L942.5 1115.69L944.5 1116.13L946.5 1115.86L948.5 1116.8L950.5 1116.2" fill="none" stroke="#0d0b0c" stroke-width="3.0" stroke-linejoin="round" stroke-linecap="butt"/><path d="M654.5 1174L656.5 1173.68L658.5 1173.86L660.5 1173.53L662.5 1173.86L664.5 1174.26L666.5 1173.95L668.5 1173.79L670.5 1173.56L672.5 1174.28L674.5 1174.25L676.5 1174.44L678.5 1173.4L680.5 1174.44L682.5 1174.34L684.5 1174.26L686.5 1173.59L688.5 1173.49L690.5 1174.03L692.5 1173.47L694.5 1174.59L696.5 1173.71L698.5 1174.38L700.5 1174.22L702.5 1173.86L704.5 1173.47L706.5 1173.46L708.5 1173.87L710.5 1173.91L712.5 1174.33L714.5 1174.53L716.5 1173.37L718.5 1174.16L720.5 1174.16L722.5 1173.97L724.5 1174.26L726.5 1174.52L728.5 1174.58L730.5 1174.08L732.5 1173.84L734.5 1174.55L736.5 1173.64L738.5 1173.53L740.5 1174.32L742.5 1173.66L744.5 1174.5L746.5 1173.37L748.5 1174.34L750.5 1174.13L752.5 1174L754.5 1173.56L756.5 1174.22L758.5 1173.64L760.5 1173.52L762.5 1174.53L764.5 1174.36L766.5 1173.48L768.5 1173.7L770.5 1173.54L772.5 1173.99L774.5 1174.47L776.5 1174.61L778.5 1174.04L780.5 1174.21L782.5 1174.44L784.5 1173.75L786.5 1173.39L788.5 1173.74L790.5 1173.54L792.5 1173.78L794.5 1173.81L796.5 1173.77L798.5 1174.51L800.5 1174.05L802.5 1174.16L804.5 1174.59L806.5 1174.55L808.5 1173.51L810.5 1173.61L812.5 1173.8L814.5 1174.16L816.5 1174.51L818.5 1174.15L820.5 1172.84L822.5 1173.4L824.5 1174.45L826.5 1174.43L828.5 1174.1L830.5 1174.41L832.5 1173.74L834.5 1174.4L836.5 1173.7L838.5 1173.66L840.5 1174.5L842.5 1174.38L844.5 1174.7L846.5 1174.31L848.5 1173.7L850.5 1173.7L852.5 1174.48L854.5 1174.1L856.5 1174.56L858.5 1173.6L860.5 1174.06L862.5 1174.45L864.5 1173.64L866.5 1173.56L868.5 1174.85L870.5 1174.33L872.5 1172.95L874.5 1174.09L876.5 1174.2L878.5 1174.13L880.5 1174.58L882.5 1173.96L884.5 1174L886.5 1171L887 1168.81L887.5 1166.62L888 1164.44L888.5 1162.25L889 1160.06L889.5 1157.88L890 1155.69L890.5 1153.5L892 1151L893.5 1148.5L895.75 1147.28L898 1147L900.02 1147.13L902.04 1146.77L904.06 1146.5L906.08 1146.6L908.1 1146.5L910.12 1146.86L912.13 1147.28L914.15 1147.13L916.17 1146.39L918.19 1147.31L920.21 1147.3L922.23 1146.54L924.25 1146.35L926.27 1146.36L928.29 1146.95L930.31 1146.24L932.33 1147.25L934.35 1146.88L936.37 1146.76L938.38 1146.55L940.4 1146.53L942.42 1146.73L944.44 1146.54L946.46 1147.04L948.48 1146.82L950.5 1146.4" fill="none" stroke="#0d0b0c" stroke-width="3.0" stroke-linejoin="round" stroke-linecap="butt"/><path d="M654.5 1232L656.54 1231.76L658.58 1231.41L660.61 1231.74L662.65 1231.78L664.69 1231.52L666.73 1231.41L668.76 1232.12L670.8 1232.26L672.84 1231.6L674.88 1231.98L676.91 1232.21L678.95 1231.91L680.99 1231.38L683.02 1232.49L685.06 1231.67L687.1 1231.94L689.14 1231.64L691.17 1231.6L693.21 1232.02L695.25 1232.58L697.29 1231.76L699.32 1231.99L701.36 1231.51L703.4 1232L703.5 1229.9L703.6 1227.8L703.7 1225.7L703.8 1223.6L703.9 1221.5L704 1219.4L704.1 1217.3L704.2 1215.2L704.3 1213.1L704.4 1211L704.5 1208.9L704.6 1206.8L706.74 1207.24L708.88 1207.2L711.02 1207.26L713.15 1206.63L715.29 1206.29L717.43 1206.18L719.57 1206.94L721.71 1206.73L723.85 1206.51L725.98 1206.92L728.12 1207.25L730.26 1206.39L732.4 1206.8L732.47 1208.92L732.53 1211.04L732.6 1213.16L732.67 1215.28L732.73 1217.4L732.8 1219.52L732.87 1221.64L732.93 1223.76L733 1225.88L733.07 1228L733.13 1230.12L733.2 1232.24L733.27 1234.36L733.33 1236.48L733.4 1238.6L733.73 1236.47L734.07 1234.33L734.4 1232.2L736.42 1232.04L738.43 1232.44L740.45 1232.62L742.46 1231.93L744.48 1232.15L746.49 1232.66L748.51 1232.65L750.52 1232.48L752.54 1232.02L754.55 1232.7L756.57 1232.43L758.58 1232.54L760.6 1232.2L760.7 1230.08L760.8 1227.97L760.9 1225.85L761 1223.73L761.1 1221.62L761.2 1219.5L761.3 1217.38L761.4 1215.27L761.5 1213.15L761.6 1211.03L761.7 1208.92L761.8 1206.8L763.94 1206.41L766.08 1206.58L768.22 1207.43L770.35 1207.05L772.49 1207.33L774.63 1207.4L776.77 1206.79L778.91 1206.33L781.05 1206.24L783.18 1206.86L785.32 1207.05L787.46 1206.93L789.6 1206.8L789.7 1208.93L789.8 1211.07L789.9 1213.2L790 1215.33L790.1 1217.47L790.2 1219.6L790.3 1221.73L790.4 1223.87L790.5 1226L790.6 1228.13L790.7 1230.27L790.8 1232.4L792.86 1232.19L794.91 1231.89L796.97 1232.61L799.03 1232.07L801.09 1232.3L803.14 1232.22L805.2 1231.93L807.26 1232.23L809.31 1232.77L811.37 1231.93L813.43 1233.04L815.49 1232.54L817.54 1232.64L819.6 1232.4L819.7 1230.25L819.8 1228.1L819.9 1225.95L820 1223.8L820.1 1221.65L820.2 1219.5L820.3 1217.35L820.4 1215.2L820.5 1213.05L820.6 1210.9L820.7 1208.75L820.8 1206.6L822.83 1206.99L824.85 1206.18L826.88 1206.51L828.91 1206.55L830.93 1206.83L832.96 1207.02L834.99 1206.81L837.01 1206.22L839.04 1206.82L841.07 1207.13L843.09 1207.21L845.12 1207L847.15 1206.22L849.17 1206.12L851.2 1206.29L853.22 1206.9L855.25 1207.1L857.28 1206.72L859.3 1206.16L861.33 1206.31L863.36 1206.07L865.38 1206.39L867.41 1206.71L869.44 1206.68L871.46 1207L873.49 1206.36L875.52 1206.81L877.54 1206.68L879.57 1206.4L881.6 1206.54L883.62 1206.1L885.65 1206.99L887.68 1207.01L889.7 1206.57L891.73 1206.61L893.76 1207.2L895.78 1206.34L897.81 1206.25L899.84 1207.19L901.86 1206.66L903.89 1206.3L905.92 1206.46L907.94 1206.77L909.97 1207.03L912 1207.19L914.02 1206.83L916.05 1207.09L918.08 1206.25L920.1 1208.04L922.13 1207.09L924.15 1206.71L926.18 1206.5L928.21 1207.29L930.23 1206.56L932.26 1206.48L934.29 1206.89L936.31 1206.73L938.34 1206.56L940.37 1206.5L942.39 1207.24L944.42 1206.36L946.45 1206.98L948.47 1206.95L950.5 1206.8" fill="none" stroke="#0d0b0c" stroke-width="3.0" stroke-linejoin="round" stroke-linecap="butt"/><text x="635.6" y="1097.7" font-size="14.84" text-anchor="end" font-weight="bold" >V<tspan font-size="58%" dy="0.36em">O2</tspan></text><text x="635.6" y="1115" font-size="14.44" text-anchor="end" font-weight="bold" >(5V/div)</text><text x="635.6" y="1162.6" font-size="14.84" text-anchor="end" font-weight="bold" >V<tspan font-size="58%" dy="0.36em">O1</tspan></text><text x="635.6" y="1179.9" font-size="14.44" text-anchor="end" font-weight="bold" >(5V/div)</text><text x="635.6" y="1227.6" font-size="14.44" text-anchor="end" font-weight="bold" >EN/SET</text><text x="635.6" y="1244.9" font-size="14.44" text-anchor="end" font-weight="bold" >(5V/div)</text><text x="792.5" y="1290.4" font-size="14.44" text-anchor="middle" font-weight="bold" >Time (2&#956;s/div)</text></g>
</svg>
</div></body></html>
